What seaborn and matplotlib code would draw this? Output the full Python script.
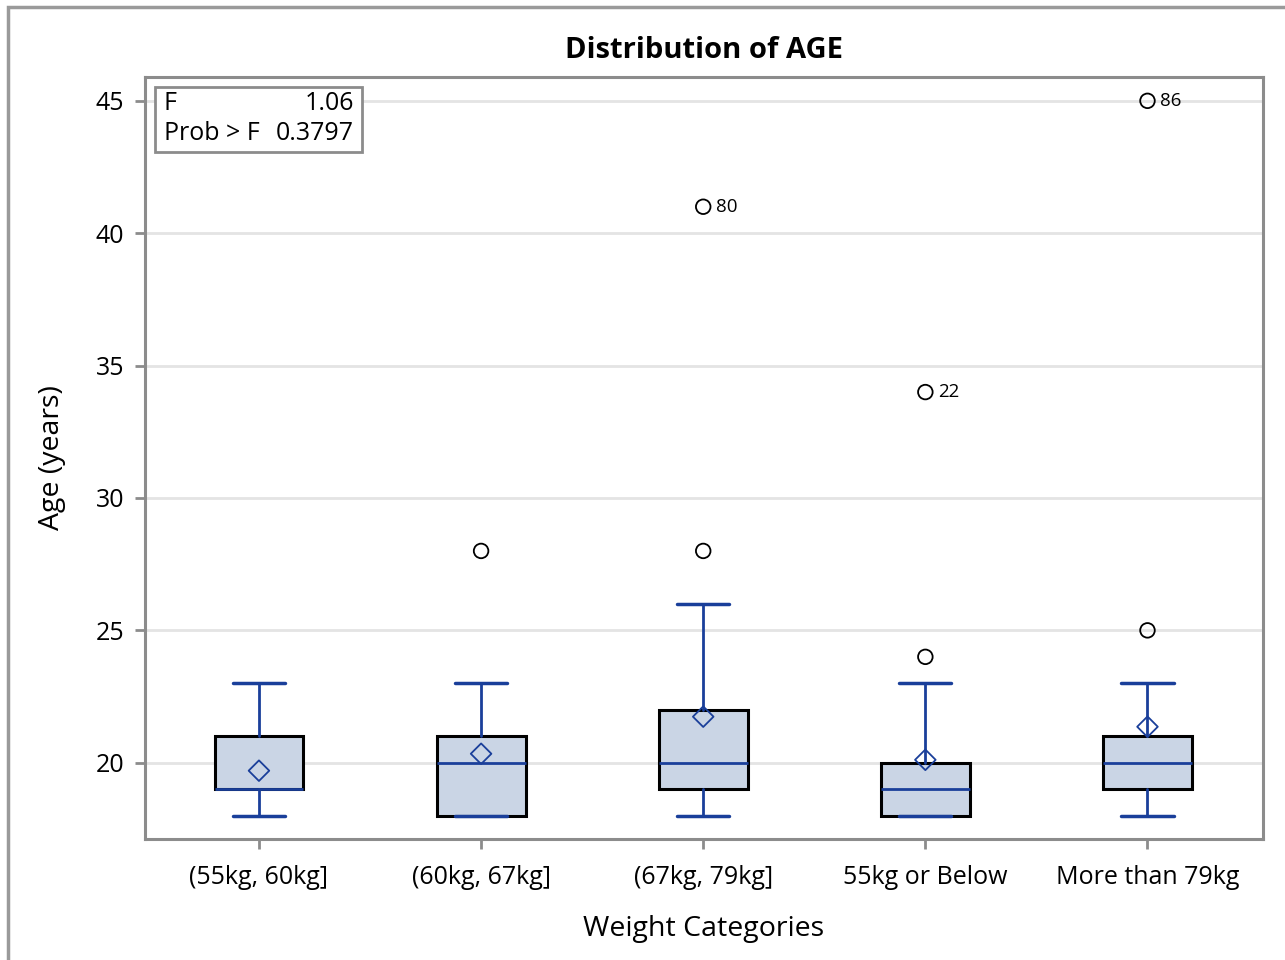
import numpy as np
import pandas as pd
import matplotlib.pyplot as plt
import matplotlib.patches as mpatches
import seaborn as sns

IMAGE_DPI = 100

categories = ['(55kg, 60kg]', '(60kg, 67kg]', '(67kg, 79kg]', '55kg or Below', 'More than 79kg']
whisker_low = [18, 18, 18, 18, 18]
q1 = [19, 18, 19, 18, 19]
median = [19, 20, 20, 19, 20]
q3 = [21, 21, 22, 20, 21]
whisker_high = [23, 23, 26, 23, 23]
mean = [19.70, 20.34, 21.74, 20.11, 21.36]

outlier_cat = ['(60kg, 67kg]', '(67kg, 79kg]', '(67kg, 79kg]', '55kg or Below', '55kg or Below',
               'More than 79kg', 'More than 79kg']
outlier_age = [28, 28, 41, 24, 34, 25, 45]
outlier_id = ['', '', '80', '', '22', '', '86']

f_value = '1.06'
prob_f = '0.3797'

BLUE = '#1a3f9a'
FILL = '#cad5e5'
GRAY = '#8c8c8c'

sns.set_style('white')
plt.rcParams['font.family'] = ['Open Sans', 'DejaVu Sans']
plt.rcParams['text.color'] = 'black'
plt.rcParams['axes.labelcolor'] = 'black'
plt.rcParams['xtick.color'] = 'black'
plt.rcParams['ytick.color'] = 'black'

fig = plt.figure(figsize=(12.85, 9.6), dpi=IMAGE_DPI)
ax = fig.add_axes([145 / 1285, 1 - 839 / 960, (1263 - 145) / 1285, (839 - 77) / 960])

# outer frame
fig.patches.append(mpatches.Rectangle((8 / 1285, -0.01), 1.0, 1 - 7 / 960 + 0.01,
                                      transform=fig.transFigure, fill=False,
                                      edgecolor='#9a9a9a', linewidth=2.5))

stats = []
for i, c in enumerate(categories):
    stats.append({'label': c, 'whislo': whisker_low[i], 'q1': q1[i], 'med': median[i],
                  'q3': q3[i], 'whishi': whisker_high[i], 'fliers': []})

pos = np.arange(len(categories))
ax.bxp(stats, positions=pos, widths=0.40, patch_artist=True, showfliers=False,
       boxprops=dict(facecolor=FILL, edgecolor='black', linewidth=2.2),
       medianprops=dict(color=BLUE, linewidth=2),
       whiskerprops=dict(color=BLUE, linewidth=2),
       capprops=dict(color=BLUE, linewidth=2.5), capwidths=0.235, zorder=3)

df_mean = pd.DataFrame({'cat': categories, 'mean': mean})
df_mean['x'] = pos
sns.scatterplot(data=df_mean, x='x', y='mean', marker='D', s=110, facecolor='none',
                edgecolor=BLUE, linewidth=1.3, ax=ax, zorder=5)

df_out = pd.DataFrame({'cat': outlier_cat, 'age': outlier_age, 'id': outlier_id})
df_out['x'] = df_out['cat'].map({c: i for i, c in enumerate(categories)})
sns.scatterplot(data=df_out, x='x', y='age', marker='o', s=110, facecolor='none',
                edgecolor='black', linewidth=1.3, ax=ax, zorder=5)
for x, y, lab in zip(df_out['x'], df_out['age'], df_out['id']):
    if lab:
        ax.annotate(lab, (x, y), xytext=(9, 0), textcoords='offset points',
                    fontsize=13.5, va='center', ha='left')

ax.set_xlim(-0.513, 4.52)
ax.set_ylim(17.12, 45.9)
ax.set_xticks(pos)
ax.set_xticklabels(categories)
ax.set_yticks([20, 25, 30, 35, 40, 45])
ax.yaxis.grid(True, color='#e4e4e4', linewidth=2)
ax.set_axisbelow(True)
for s in ax.spines.values():
    s.set_color(GRAY)
    s.set_linewidth(2.2)
ax.tick_params(axis='both', which='both', length=7, width=2, color=GRAY,
               labelsize=18, pad=8, direction='out', left=True, bottom=True)
ax.tick_params(axis='x', pad=12)

ax.set_xlabel('Weight Categories', fontsize=20.5, labelpad=18)
ax.set_ylabel('Age (years)', fontsize=20.5, labelpad=21)
ax.set_title('Distribution of AGE', fontsize=21, fontweight='bold', pad=14)

# statistics inset
ax.add_patch(mpatches.Rectangle((155 / 1285, 1 - 152 / 960), (362 - 155) / 1285, (152 - 87) / 960,
                                transform=fig.transFigure, fill=True, facecolor='white',
                                edgecolor=GRAY, linewidth=2, zorder=6))
fig.text(164 / 1285, 1 - 104 / 960, 'F', fontsize=18, va='center', ha='left', zorder=7)
fig.text(354 / 1285, 1 - 104 / 960, f_value, fontsize=18, va='center', ha='right', zorder=7)
fig.text(164 / 1285, 1 - 134 / 960, 'Prob > F', fontsize=18, va='center', ha='left', zorder=7)
fig.text(354 / 1285, 1 - 134 / 960, prob_f, fontsize=18, va='center', ha='right', zorder=7)

fig.savefig('out.png', dpi=IMAGE_DPI)
